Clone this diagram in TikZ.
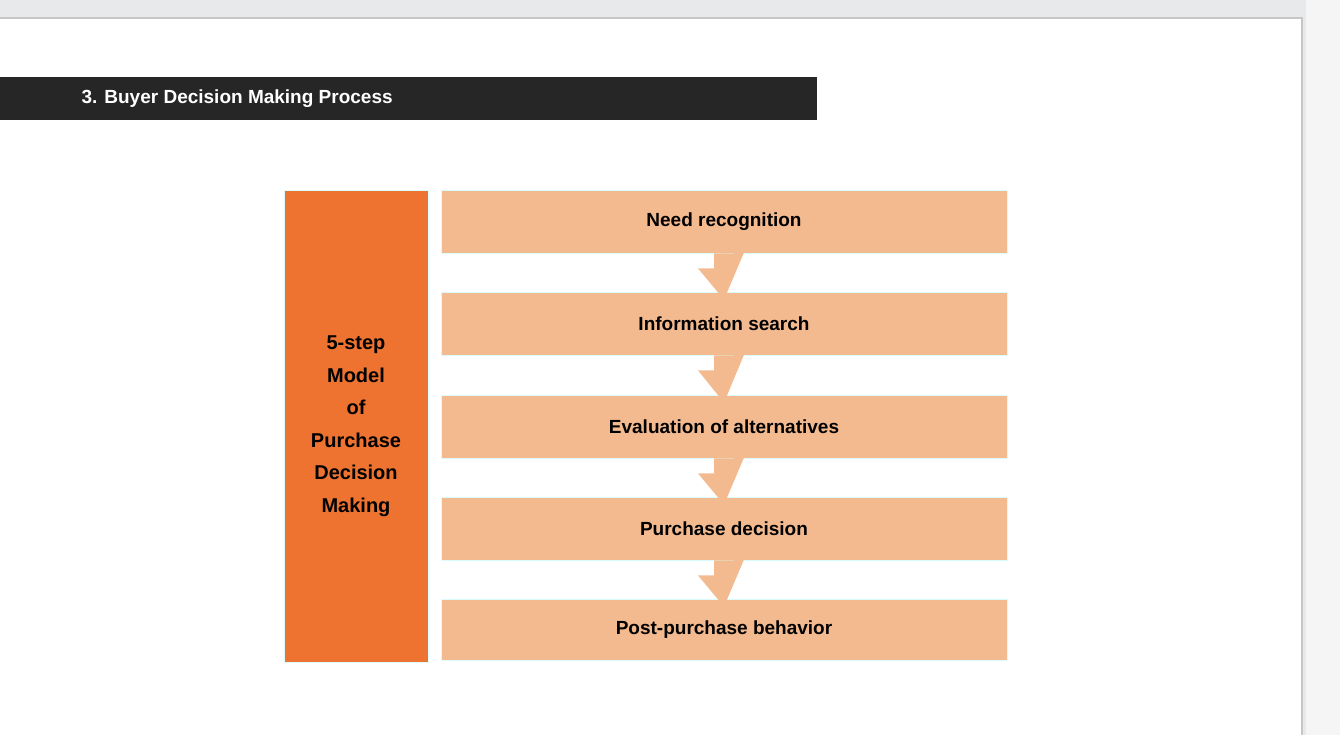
\documentclass[tikz,border=0pt]{standalone}
\usepackage{fontspec}
\setmainfont{Liberation Sans}
\begin{document}
\begin{tikzpicture}[x=1pt,y=-1pt,
  step box/.style={draw=blue!8!cyan!15, line width=0.8pt, fill=peach, minimum width=566pt, minimum height=63pt, font=\fontsize{19}{22}\selectfont\bfseries, inner sep=0pt},
  down arrow/.style={fill=peach, draw=none}]
\definecolor{peach}{HTML}{F4BA8F}
\definecolor{darkorange}{HTML}{EE7330}
\definecolor{pagebg}{HTML}{E8E9EB}
\useasboundingbox (0,0) rectangle (1340,735);
\fill[pagebg] (0,0) rectangle (1340,735);
\fill[white] (0,17) rectangle (1302,735);
\draw[gray!45, line width=2pt] (0,18) -- (1302,18) -- (1302,735);
\fill[white!96!black] (1306,0) rectangle (1340,735);
\fill[black!85] (0,77) rectangle (817,120);
\node[anchor=west, text=white, font=\fontsize{19}{22}\selectfont\bfseries] (title) at (78,98.5) {3. Buyer Decision Making Process};
\node[fill=darkorange, draw=blue!8!cyan!15, line width=0.8pt, minimum width=144pt, minimum height=472pt, inner sep=0pt, align=center, font=\fontsize{20}{32.5}\selectfont\bfseries] (model) at (356,426) {5-step\\Model\\of\\Purchase\\Decision\\Making};
\node[step box] (s1) at (724,221.5) {Need recognition};
\node[step box] (s2) at (724,323.5) {Information search};
\node[step box] (s3) at (724,426.5) {Evaluation of alternatives};
\node[step box] (s4) at (724,528.5) {Purchase decision};
\node[step box, minimum height=61pt] (s5) at (724,629.5) {Post-purchase behavior};
\foreach \a/\b in {s1/s2,s2/s3,s3/s4,s4/s5}{
  \fill[peach] ([xshift=-10pt]\a.south) -- ++(0,15) -- ++(-16,0) -- ([yshift=-8pt]\b.north) -- ([xshift=26pt,yshift=15pt]\a.south) -- ([xshift=10pt,yshift=15pt]\a.south) -- ([xshift=10pt]\a.south) -- cycle;
}
\end{tikzpicture}
\end{document}
